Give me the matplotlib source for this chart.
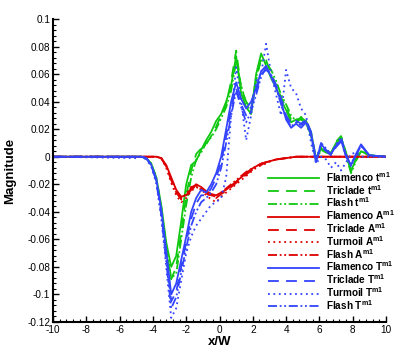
import numpy as np
import matplotlib
matplotlib.use("Agg")
import matplotlib.pyplot as plt
from matplotlib.ticker import MultipleLocator, FuncFormatter

plt.rcParams['font.family'] = ['Liberation Sans', 'DejaVu Sans']
plt.rcParams['axes.unicode_minus'] = False
plt.rcParams['mathtext.fontset'] = 'custom'
plt.rcParams['mathtext.rm'] = 'Liberation Sans'
plt.rcParams['mathtext.bf'] = 'Liberation Sans:bold'

# x/W positions shared by every series
xw = [-10, -5.0, -4.7, -4.4, -4.1, -3.8, -3.5, -3.2, -2.9, -2.6,
      -2.3, -2.0, -1.7, -1.4, -1.1, -0.8, -0.5, -0.2, 0.1, 0.4,
      0.7, 1.0, 1.3, 1.6, 1.9, 2.2, 2.5, 2.8, 3.1, 3.4,
      3.7, 4.0, 4.3, 4.6, 4.9, 5.2, 5.5, 5.8, 6.1, 6.4,
      6.7, 7.0, 7.3, 7.6, 7.9, 8.2, 8.5, 9.0, 10]

# t^m1
flamenco_t = [0, 0, 0, -0.001, -0.005, -0.015, -0.035, -0.062, -0.080, -0.072,
              -0.047, -0.020, -0.006, -0.003, 0.005, 0.012, 0.018, 0.026, 0.031, 0.040,
              0.052, 0.073, 0.046, 0.036, 0.031, 0.060, 0.075, 0.066, 0.057, 0.050,
              0.041, 0.034, 0.025, 0.027, 0.028, 0.026, 0.018, -0.002, 0.006, 0.004,
              0.003, 0.010, 0.014, 0.002, -0.010, -0.002, 0.004, 0.001, 0]
triclade_t = [0, 0, 0, -0.001, -0.005, -0.016, -0.038, -0.068, -0.089, -0.080,
              -0.055, -0.028, -0.010, 0.002, 0.006, 0.009, 0.015, 0.022, 0.030, 0.038,
              0.055, 0.077, 0.050, 0.040, 0.035, 0.055, 0.072, 0.070, 0.060, 0.052,
              0.043, 0.036, 0.027, 0.024, 0.029, 0.024, 0.016, -0.001, 0.007, 0.005,
              0.002, 0.011, 0.015, 0.003, -0.011, -0.001, 0.005, 0.001, 0]
flash_t = [0, 0, 0, -0.001, -0.005, -0.015, -0.036, -0.065, -0.088, -0.085,
           -0.060, -0.035, -0.015, -0.002, 0.003, 0.010, 0.014, 0.020, 0.028, 0.036,
           0.048, 0.069, 0.052, 0.038, 0.033, 0.058, 0.070, 0.068, 0.063, 0.055,
           0.045, 0.038, 0.030, 0.026, 0.027, 0.024, 0.015, -0.003, 0.005, 0.003,
           0.002, 0.009, 0.015, 0.001, -0.012, -0.003, 0.004, 0.001, 0]

# A^m1
flamenco_a = [0, 0, 0, 0, 0, 0, -0.001, -0.006, -0.015, -0.024,
              -0.029, -0.028, -0.023, -0.020, -0.022, -0.025, -0.027, -0.028, -0.026, -0.024,
              -0.021, -0.018, -0.015, -0.012, -0.009, -0.007, -0.005, -0.004, -0.003, -0.002,
              -0.0015, -0.001, -0.0005, 0, 0, 0, 0, 0, 0, 0,
              0, 0, 0, 0, 0, 0, 0, 0, 0]
triclade_a = [0, 0, 0, 0, 0, 0, -0.001, -0.007, -0.017, -0.026,
              -0.031, -0.029, -0.024, -0.021, -0.023, -0.026, -0.029, -0.030, -0.027, -0.025,
              -0.022, -0.019, -0.016, -0.013, -0.010, -0.008, -0.006, -0.004, -0.003, -0.002,
              -0.0015, -0.001, -0.0005, 0, 0, 0, 0, 0, 0, 0,
              0, 0, 0, 0, 0, 0, 0, 0, 0]
turmoil_a = [0, 0, 0, 0, 0, 0, -0.001, -0.008, -0.019, -0.028,
             -0.033, -0.030, -0.025, -0.022, -0.024, -0.028, -0.031, -0.033, -0.029, -0.026,
             -0.023, -0.020, -0.017, -0.014, -0.011, -0.008, -0.006, -0.005, -0.003, -0.002,
             -0.0015, -0.001, -0.0005, 0, 0, 0, 0, 0, 0, 0,
             0, 0, 0, 0, 0, 0, 0, 0, 0]
flash_a = [0, 0, 0, 0, 0, 0, -0.001, -0.007, -0.016, -0.025,
           -0.030, -0.027, -0.022, -0.021, -0.024, -0.027, -0.028, -0.029, -0.026, -0.023,
           -0.020, -0.017, -0.014, -0.011, -0.009, -0.007, -0.005, -0.004, -0.003, -0.002,
           -0.0015, -0.001, -0.0005, 0, 0, 0, 0, 0, 0, 0,
           0, 0, 0, 0, 0, 0, 0, 0, 0]

# T^m1
flamenco_T = [0, 0, 0, -0.001, -0.006, -0.016, -0.038, -0.068, -0.100, -0.092,
              -0.075, -0.058, -0.040, -0.030, -0.024, -0.026, -0.020, -0.012, 0.000, 0.020,
              0.040, 0.054, 0.042, 0.035, 0.040, 0.050, 0.062, 0.066, 0.058, 0.050,
              0.040, 0.027, 0.021, 0.024, 0.021, 0.025, 0.016, -0.004, 0.009, 0.005,
              0.002, 0.008, 0.012, 0.000, -0.006, 0.002, 0.009, 0.001, 0]
triclade_T = [0, 0, 0, -0.001, -0.006, -0.017, -0.040, -0.072, -0.105, -0.098,
              -0.080, -0.062, -0.045, -0.034, -0.028, -0.028, -0.023, -0.015, -0.004, 0.015,
              0.035, 0.050, 0.038, 0.030, 0.036, 0.047, 0.060, 0.063, 0.060, 0.052,
              0.042, 0.030, 0.024, 0.026, 0.024, 0.027, 0.018, -0.002, 0.008, 0.004,
              0.001, 0.007, 0.011, 0.001, -0.005, 0.001, 0.008, 0.001, 0]
turmoil_T = [0, -0.001, 0, -0.002, -0.007, -0.019, -0.044, -0.080, -0.117, -0.110,
             -0.090, -0.070, -0.058, -0.050, -0.045, -0.040, -0.035, -0.033, -0.030, -0.015,
             0.030, 0.065, 0.040, 0.012, 0.030, 0.055, 0.060, 0.082, 0.060, 0.045,
             0.030, 0.063, 0.050, 0.046, 0.035, 0.030, 0.010, -0.005, 0.000, -0.002,
             -0.008, -0.004, -0.010, -0.004, 0.002, 0.003, 0.000, 0, 0]
flash_T = [0, 0, 0, -0.001, -0.006, -0.018, -0.042, -0.076, -0.110, -0.102,
           -0.084, -0.066, -0.050, -0.040, -0.033, -0.030, -0.026, -0.020, -0.008, 0.010,
           0.030, 0.048, 0.036, 0.025, 0.033, 0.045, 0.058, 0.065, 0.059, 0.050,
           0.038, 0.028, 0.022, 0.025, 0.023, 0.026, 0.017, -0.003, 0.010, 0.006,
           0.002, 0.009, 0.014, 0.002, -0.007, 0.001, 0.008, 0.001, 0]

green = '#11c811'
red = '#dd0000'
blue = '#3344ff'
dash = (0, (6, 4))
dashdotdot = (0, (5, 1.5, 1, 1.5, 1, 1.5))
dots = (0, (1, 2))

series = [
    (flamenco_t, green, '-', r'Flamenco t$^{\bf m1}$'),
    (triclade_t, green, dash, r'Triclade t$^{\bf m1}$'),
    (flash_t, green, dashdotdot, r'Flash t$^{\bf m1}$'),
    (flamenco_a, red, '-', r'Flamenco A$^{\bf m1}$'),
    (triclade_a, red, dash, r'Triclade A$^{\bf m1}$'),
    (turmoil_a, red, dots, r'Turmoil A$^{\bf m1}$'),
    (flash_a, red, dashdotdot, r'Flash A$^{\bf m1}$'),
    (flamenco_T, blue, '-', r'Flamenco T$^{\bf m1}$'),
    (triclade_T, blue, dash, r'Triclade T$^{\bf m1}$'),
    (turmoil_T, blue, dots, r'Turmoil T$^{\bf m1}$'),
    (flash_T, blue, dashdotdot, r'Flash T$^{\bf m1}$'),
]

fig = plt.figure(figsize=(4.07, 3.62), dpi=100)
ax = fig.add_axes([53 / 407, 40 / 362, 333 / 407, 303 / 362])

for y, c, ls, lab in series:
    ax.plot(xw, y, color=c, linestyle=ls, lw=1.3, label=lab)

ax.set_xlim(-10, 10)
ax.set_ylim(-0.12, 0.1)
ax.xaxis.set_major_locator(MultipleLocator(2))
ax.xaxis.set_minor_locator(MultipleLocator(0.4))
ax.yaxis.set_major_locator(MultipleLocator(0.02))
ax.yaxis.set_minor_locator(MultipleLocator(0.004))
ax.yaxis.set_major_formatter(FuncFormatter(lambda v, p: f'{round(v, 3):g}'))
ax.xaxis.set_major_formatter(FuncFormatter(lambda v, p: f'{round(v):d}'))
ax.tick_params(which='major', direction='in', length=4, width=1, labelsize=7.2, pad=2)
ax.tick_params(which='minor', direction='in', length=2.2, width=0.8)
ax.spines['top'].set_visible(False)
ax.spines['right'].set_visible(False)
ax.spines['left'].set_linewidth(1.5)
ax.spines['bottom'].set_linewidth(1.5)

ax.set_xlabel('x/W', fontsize=9.5, fontweight='bold', labelpad=1)
ax.set_ylabel('Magnitude', fontsize=9.5, fontweight='bold')
ax.yaxis.set_label_coords(-0.112, 0.5)

leg = ax.legend(loc='upper left', bbox_to_anchor=(268 / 407, 1 - 170 / 362),
                bbox_transform=fig.transFigure, frameon=False, borderpad=0,
                borderaxespad=0, handlelength=5.1, handletextpad=0.75,
                labelspacing=-0.1,
                prop={'family': ['Liberation Sans Narrow', 'Liberation Sans'],
                      'weight': 'bold', 'size': 7.2})

fig.savefig('out.png', dpi=100)
